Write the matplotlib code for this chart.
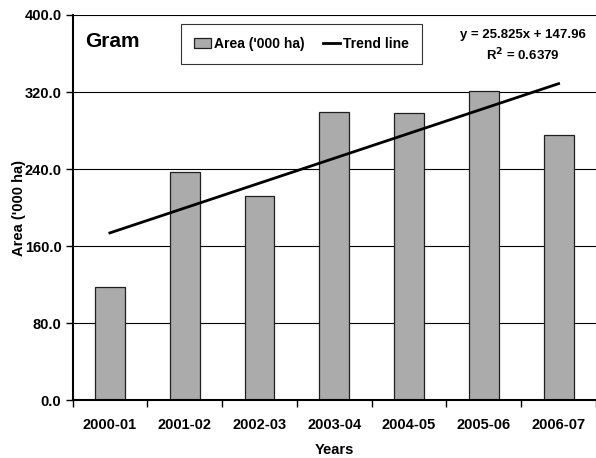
import numpy as np
import matplotlib
matplotlib.use("Agg")
import matplotlib.pyplot as plt

plt.rcParams['font.family'] = ['Liberation Sans', 'DejaVu Sans']
plt.rcParams['font.weight'] = 'bold'

# data
years = ['2000-01', '2001-02', '2002-03', '2003-04', '2004-05', '2005-06', '2006-07']
area = [118, 237, 212, 299, 298, 321, 275]
slope = 25.825
intercept = 147.96
r2 = 0.6379
yticks = [0, 80, 160, 240, 320, 400]

fig = plt.figure(figsize=(5.96, 4.58), dpi=100)
ax = fig.add_axes([72.5/596, 1 - 400.3/458, 1 - 72.5/596, (400.3 - 15)/458])

x = np.arange(1, len(years) + 1)
bars = ax.bar(x, area, width=0.4, color='#ababab', edgecolor='#202020', linewidth=0.9,
              label="Area ('000 ha)", zorder=3)
trend = slope * x + intercept
line, = ax.plot(x, trend, color='black', lw=2.0, label='Trend line', zorder=4)

ax.set_xlim(0.5, len(years) + 0.5)
ax.set_ylim(0, 400)
ax.set_yticks(yticks)
ax.set_yticklabels([f'{v:.1f}' for v in yticks], fontsize=10.5, fontweight='bold')
ax.grid(axis='y', color='black', lw=0.8, zorder=0)

# labels at category centres, tick marks at category boundaries
ax.set_xticks(np.arange(0.5, len(years) + 1, 1.0))
ax.set_xticklabels([])
ax.set_xticks(x, minor=True)
ax.set_xticklabels(years, minor=True, fontsize=10.5, fontweight='bold')
ax.tick_params(axis='x', which='minor', length=0, pad=13)
ax.tick_params(axis='x', which='major', length=5, width=1, direction='out')
ax.tick_params(axis='y', length=5, width=1, direction='out', pad=3)

for s in ['top', 'right']:
    ax.spines[s].set_visible(False)
for s in ['left', 'bottom']:
    ax.spines[s].set_linewidth(1.5)
    ax.spines[s].set_zorder(5)

ax.set_xlabel('Years', fontsize=10.5, fontweight='bold', labelpad=8)
ax.set_ylabel("Area ('000 ha)", fontsize=10.5, fontweight='bold', labelpad=-1)

ax.text(0.024, 0.93, 'Gram', transform=ax.transAxes, fontsize=15,
        fontweight='bold', va='center', ha='left')
ax.text(0.861, 0.948, f'y = {slope}x + {intercept}', transform=ax.transAxes,
        fontsize=9.5, fontweight='bold', ha='center', va='center')
ax.text(0.861, 0.896, f'R$^2$ = {r2}', transform=ax.transAxes,
        fontsize=9.5, fontweight='bold', ha='center', va='center')

leg = ax.legend([bars, line], ["Area ('000 ha)", 'Trend line'],
                loc='upper left', bbox_to_anchor=(0.207, 0.977), ncol=2,
                fontsize=10, frameon=True, fancybox=False, edgecolor='black',
                handlelength=1.2, handletextpad=0.25, columnspacing=1.3,
                borderpad=0.95, borderaxespad=0)
leg.get_frame().set_linewidth(0.8)
for t in leg.get_texts():
    t.set_fontweight('bold')

fig.savefig('out.png', dpi=100)
